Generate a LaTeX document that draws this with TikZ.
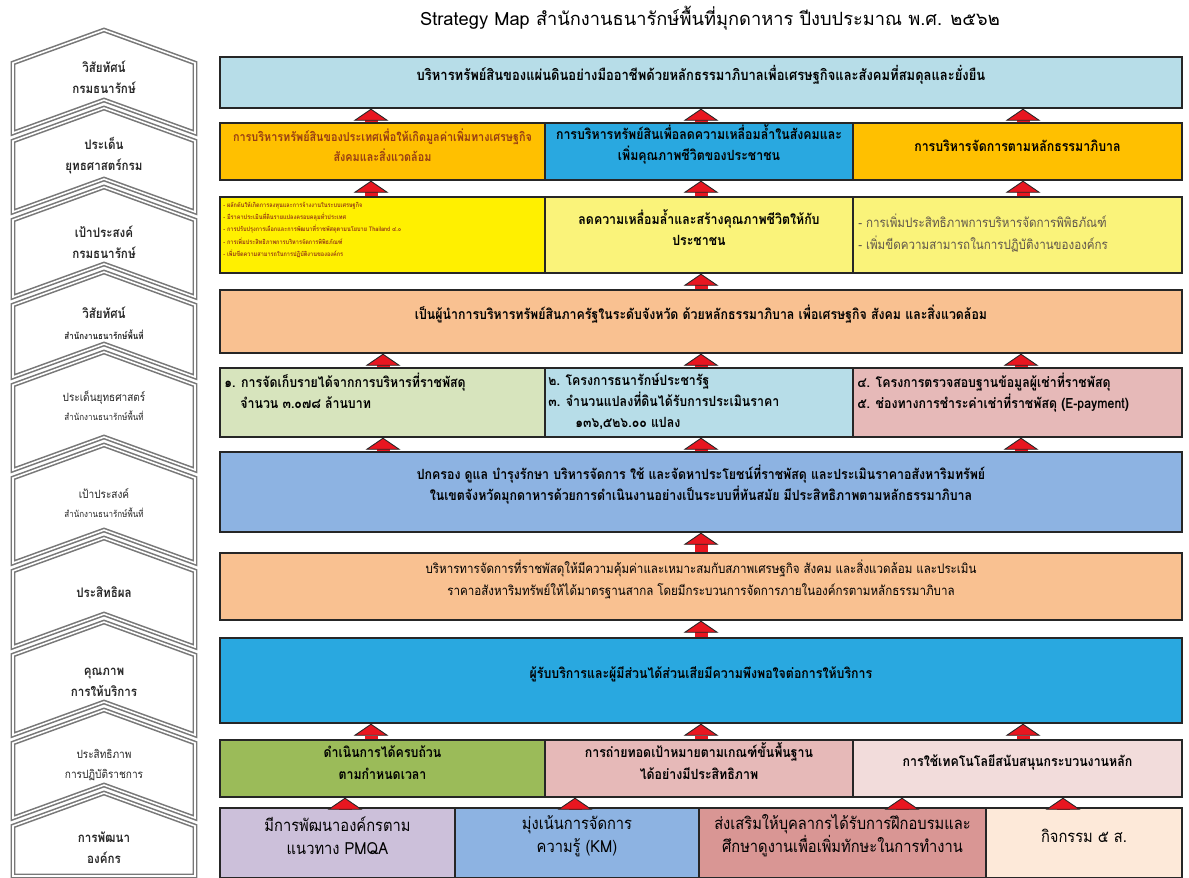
\documentclass[tikz,border=0pt]{standalone}
\usepackage{fontspec}
\setmainfont{Loma}[Script=Thai]
\newfontfamily\thaicond[Script=Thai,FakeStretch=0.88]{Loma}
\usetikzlibrary{arrows.meta,fit}

% colours of the map
\definecolor{visionblue}{RGB}{183,221,232}
\definecolor{issueorange}{RGB}{255,192,0}
\definecolor{skyblue}{RGB}{41,168,224}
\definecolor{brightyellow}{RGB}{255,240,0}
\definecolor{paleyellow}{RGB}{250,243,122}
\definecolor{peach}{RGB}{249,193,145}
\definecolor{palegreen}{RGB}{215,228,189}
\definecolor{palepink}{RGB}{230,185,184}
\definecolor{midblue}{RGB}{141,179,226}
\definecolor{olivegreen}{RGB}{155,187,89}
\definecolor{blushpink}{RGB}{242,220,219}
\definecolor{lavender}{RGB}{204,192,218}
\definecolor{rosered}{RGB}{217,150,148}
\definecolor{cream}{RGB}{253,233,217}
\definecolor{arrowred}{RGB}{232,22,32}
\definecolor{brownred}{RGB}{150,60,20}
\definecolor{bulletgray}{RGB}{95,85,75}
\definecolor{stagegray}{RGB}{120,120,120}

\newcommand{\titlefont}{\fontsize{10.4}{13}\selectfont}
\newcommand{\boxfont}{\thaicond\bfseries\fontsize{8}{12}\selectfont}
\newcommand{\visionfont}{\thaicond\bfseries\fontsize{8.4}{12}\selectfont}
\newcommand{\smallbox}{\thaicond\bfseries\fontsize{7}{11.5}\selectfont}
\newcommand{\plainbox}{\thaicond\fontsize{7.5}{12.5}\selectfont}
\newcommand{\tinybox}{\thaicond\bfseries\fontsize{3.6}{6.9}\selectfont}
\newcommand{\bigbox}{\thaicond\fontsize{9.5}{13}\selectfont}
\newcommand{\labfont}{\thaicond\bfseries\fontsize{7.5}{12}\selectfont}
\newcommand{\midlab}{\thaicond\fontsize{6.5}{11}\selectfont}
\newcommand{\sublab}{\thaicond\fontsize{5.2}{10}\selectfont}

\tikzset{
  goalbox/.style={draw=black!85, line width=0.8pt, inner sep=0pt, align=center},
  stage/.style={draw=stagegray, line width=0.9pt, double=white, double distance=0.9pt},
  stagelabel/.style={align=center, inner sep=0pt, text=black!85},
  uparrow/.style={draw=arrowred, line width=0.26cm,
    -{Triangle[width=0.7cm, length=0.24cm, line width=0.5pt, fill=arrowred, color=black!85]}}
}

\begin{document}
\begin{tikzpicture}[x=0.02cm, y=-0.02cm]
  \useasboundingbox (0,0) rectangle (1189,877);

  % title
  \node[font=\titlefont] (title) at (710,18) {Strategy Map สำนักงานธนารักษ์พื้นที่มุกดาหาร ปีงบประมาณ พ.ศ. ๒๕๖๒};

  % perspectives: stacked house shapes on the left
  \foreach \ya/\yb in {30/133, 108/212, 187/297, 272/377, 352/470, 445/563, 538/647, 622/735, 710/818} {
    \draw[stage] (13,{\ya+33}) -- (104,\ya) -- (195,{\ya+33}) -- (195,\yb) -- (104,{\yb-33}) -- (13,\yb) -- cycle;
  }
  \draw[stage] (13,826) -- (104,793) -- (195,826) -- (195,876) -- (13,876) -- cycle;

  \node[stagelabel, font=\labfont] (lab1) at (104,77) {วิสัยทัศน์\\กรมธนารักษ์};
  \node[stagelabel, font=\labfont] (lab2) at (104,156) {ประเด็น\\ยุทธศาสตร์กรม};
  \node[stagelabel, font=\labfont] (lab3) at (104,242) {เป้าประสงค์\\กรมธนารักษ์};
  \node[stagelabel, font=\labfont] (lab4) at (104,323) {วิสัยทัศน์\\{\sublab สำนักงานธนารักษ์พื้นที่}};
  \node[stagelabel, font=\midlab] (lab5) at (104,406) {ประเด็นยุทธศาสตร์\\{\sublab สำนักงานธนารักษ์พื้นที่}};
  \node[stagelabel, font=\midlab] (lab6) at (104,503) {เป้าประสงค์\\{\sublab สำนักงานธนารักษ์พื้นที่}};
  \node[stagelabel, font=\labfont] (lab7) at (104,592) {ประสิทธิผล};
  \node[stagelabel, font=\labfont] (lab8) at (104,682) {คุณภาพ\\การให้บริการ};
  \node[stagelabel, font=\midlab] (lab9) at (104,765) {ประสิทธิภาพ\\การปฏิบัติราชการ};
  \node[stagelabel, font=\labfont] (lab10) at (104,848) {การพัฒนา\\องค์กร};

  % row 1: vision of the department
  \node[goalbox, fill=visionblue, fit={(220,57) (1182,108)}, font=\visionfont] (r1)
    {บริหารทรัพย์สินของแผ่นดินอย่างมืออาชีพด้วยหลักธรรมาภิบาลเพื่อเศรษฐกิจและสังคมที่สมดุลและยั่งยืน};

  % row 2: strategic issues
  \node[goalbox, fill=issueorange, fit={(220,123) (545,180)}, font=\smallbox, text=brownred] (r2a)
    {การบริหารทรัพย์สินของประเทศเพื่อให้เกิดมูลค่าเพิ่มทางเศรษฐกิจ\\สังคมและสิ่งแวดล้อม};
  \node[goalbox, fill=skyblue, fit={(545,123) (853,180)}, font=\boxfont] (r2b)
    {การบริหารทรัพย์สินเพื่อลดความเหลื่อมล้ำในสังคมและ\\เพิ่มคุณภาพชีวิตของประชาชน};
  \node[goalbox, fill=issueorange, fit={(853,123) (1182,180)}, font=\boxfont] (r2c)
    {การบริหารจัดการตามหลักธรรมาภิบาล};

  % row 3: goals of the department
  \node[goalbox, fill=brightyellow, fit={(220,197) (545,273)}] (r3a) {};
  \node[goalbox, fill=paleyellow, fit={(545,197) (853,273)}, font=\boxfont] (r3b)
    {ลดความเหลื่อมล้ำและสร้างคุณภาพชีวิตให้กับ\\ประชาชน};
  \node[goalbox, fill=paleyellow, fit={(853,197) (1182,273)}] (r3c) {};
  \node[anchor=north west, align=left, inner sep=0pt, font=\tinybox, text=brownred] (t3a) at (223,202)
    {- ผลักดันให้เกิดการลงทุนและการจ้างงานในระบบเศรษฐกิจ\\
     - มีราคาประเมินที่ดินรายแปลงครอบคลุมทั่วประเทศ\\
     - การปรับปรุงการเลือกและการพัฒนาที่ราชพัสดุตามนโยบาย Thailand ๔.๐\\
     - การเพิ่มประสิทธิภาพการบริหารจัดการพิพิธภัณฑ์\\
     - เพิ่มขีดความสามารถในการปฏิบัติงานขององค์กร};
  \node[anchor=north west, align=left, inner sep=0pt, font=\plainbox, text=bulletgray] (t3c) at (858,214)
    {- การเพิ่มประสิทธิภาพการบริหารจัดการพิพิธภัณฑ์\\- เพิ่มขีดความสามารถในการปฏิบัติงานขององค์กร};

  % row 4: vision of the provincial office
  \node[goalbox, fill=peach, fit={(220,290) (1182,353)}, font=\boxfont] (r4)
    {เป็นผู้นำการบริหารทรัพย์สินภาครัฐในระดับจังหวัด ด้วยหลักธรรมาภิบาล เพื่อเศรษฐกิจ สังคม และสิ่งแวดล้อม};

  % row 5: strategic issues of the provincial office
  \node[goalbox, fill=palegreen, fit={(220,368) (545,437)}] (r5a) {};
  \node[goalbox, fill=visionblue, fit={(545,368) (853,437)}] (r5b) {};
  \node[goalbox, fill=palepink, fit={(853,368) (1182,437)}] (r5c) {};
  \node[anchor=north west, align=left, inner sep=0pt, font=\boxfont] (t5a) at (224,373)
    {๑. การจัดเก็บรายได้จากการบริหารที่ราชพัสดุ\\\hspace{0.32cm}จำนวน ๓.๐๗๘ ล้านบาท};
  \node[anchor=north west, align=left, inner sep=0pt, font=\boxfont] (t5b) at (548,373)
    {๒. โครงการธนารักษ์ประชารัฐ\\๓. จำนวนแปลงที่ดินได้รับการประเมินราคา\\\hspace{0.54cm}๑๓๖,๕๒๖.๐๐ แปลง};
  \node[anchor=north west, align=left, inner sep=0pt, font=\boxfont] (t5c) at (857,373)
    {๔. โครงการตรวจสอบฐานข้อมูลผู้เช่าที่ราชพัสดุ\\๕. ช่องทางการชำระค่าเช่าที่ราชพัสดุ (E-payment)};

  % row 6: goals of the provincial office
  \node[goalbox, fill=midblue, fit={(220,452) (1182,532)}, font=\boxfont] (r6)
    {ปกครอง ดูแล บำรุงรักษา บริหารจัดการ ใช้ และจัดหาประโยชน์ที่ราชพัสดุ และประเมินราคาอสังหาริมทรัพย์\\
     ในเขตจังหวัดมุกดาหารด้วยการดำเนินงานอย่างเป็นระบบที่ทันสมัย มีประสิทธิภาพตามหลักธรรมาภิบาล};

  % row 7: effectiveness
  \node[goalbox, fill=peach, fit={(220,553) (1182,620)}, font=\plainbox] (r7)
    {บริหารทารจัดการที่ราชพัสดุให้มีความคุ้มค่าและเหมาะสมกับสภาพเศรษฐกิจ สังคม และสิ่งแวดล้อม และประเมิน\\
     ราคาอสังหาริมทรัพย์ให้ได้มาตรฐานสากล โดยมีกระบวนการจัดการภายในองค์กรตามหลักธรรมาภิบาล};

  % row 8: service quality
  \node[goalbox, fill=skyblue, fit={(220,638) (1182,723)}, font=\boxfont] (r8)
    {ผู้รับบริการและผู้มีส่วนได้ส่วนเสียมีความพึงพอใจต่อการให้บริการ};

  % row 9: efficiency
  \node[goalbox, fill=olivegreen, fit={(220,740) (545,797)}, font=\boxfont] (r9a)
    {ดำเนินการได้ครบถ้วน\\ตามกำหนดเวลา};
  \node[goalbox, fill=palepink, fit={(545,740) (853,797)}, font=\boxfont] (r9b)
    {การถ่ายทอดเป้าหมายตามเกณฑ์ขั้นพื้นฐาน\\ได้อย่างมีประสิทธิภาพ};
  \node[goalbox, fill=blushpink, fit={(853,740) (1182,797)}, font=\boxfont] (r9c)
    {การใช้เทคโนโลยีสนับสนุนกระบวนงานหลัก};

  % row 10: organisational development
  \node[goalbox, fill=lavender, fit={(220,808) (455,878)}, font=\bigbox] (r10a)
    {มีการพัฒนาองค์กรตาม\\แนวทาง PMQA};
  \node[goalbox, fill=midblue, fit={(455,808) (699,878)}, font=\bigbox] (r10b)
    {มุ่งเน้นการจัดการ\\ความรู้ (KM)};
  \node[goalbox, fill=rosered, fit={(699,808) (986,878)}, font=\bigbox] (r10c)
    {ส่งเสริมให้บุคลากรได้รับการฝึกอบรมและ\\ศึกษาดูงานเพื่อเพิ่มทักษะในการทำงาน};
  \node[goalbox, fill=cream, fit={(986,808) (1182,878)}, font=\bigbox] (r10d)
    {กิจกรรม ๕ ส.};

  % red arrows between the rows
  \foreach \ax/\lo/\hi in {371/r2a/r1, 701/r2b/r1, 1023/r2c/r1,
                           371/r3a/r2a, 701/r3b/r2b, 1023/r3c/r2c,
                           701/r4/r3b,
                           383/r5a/r4, 701/r5b/r4, 1021/r5c/r4,
                           383/r6/r5a, 701/r6/r5b, 1021/r6/r5c,
                           701/r7/r6, 701/r8/r7,
                           371/r9a/r8, 701/r9b/r8, 1023/r9c/r8,
                           345/r10a/r9a, 575/r10b/r9b, 902/r10c/r9c, 1063/r10d/r9c} {
    \draw[uparrow] (\ax,0 |- \lo.north) -- (\ax,0 |- \hi.south);
  }
\end{tikzpicture}
\end{document}
